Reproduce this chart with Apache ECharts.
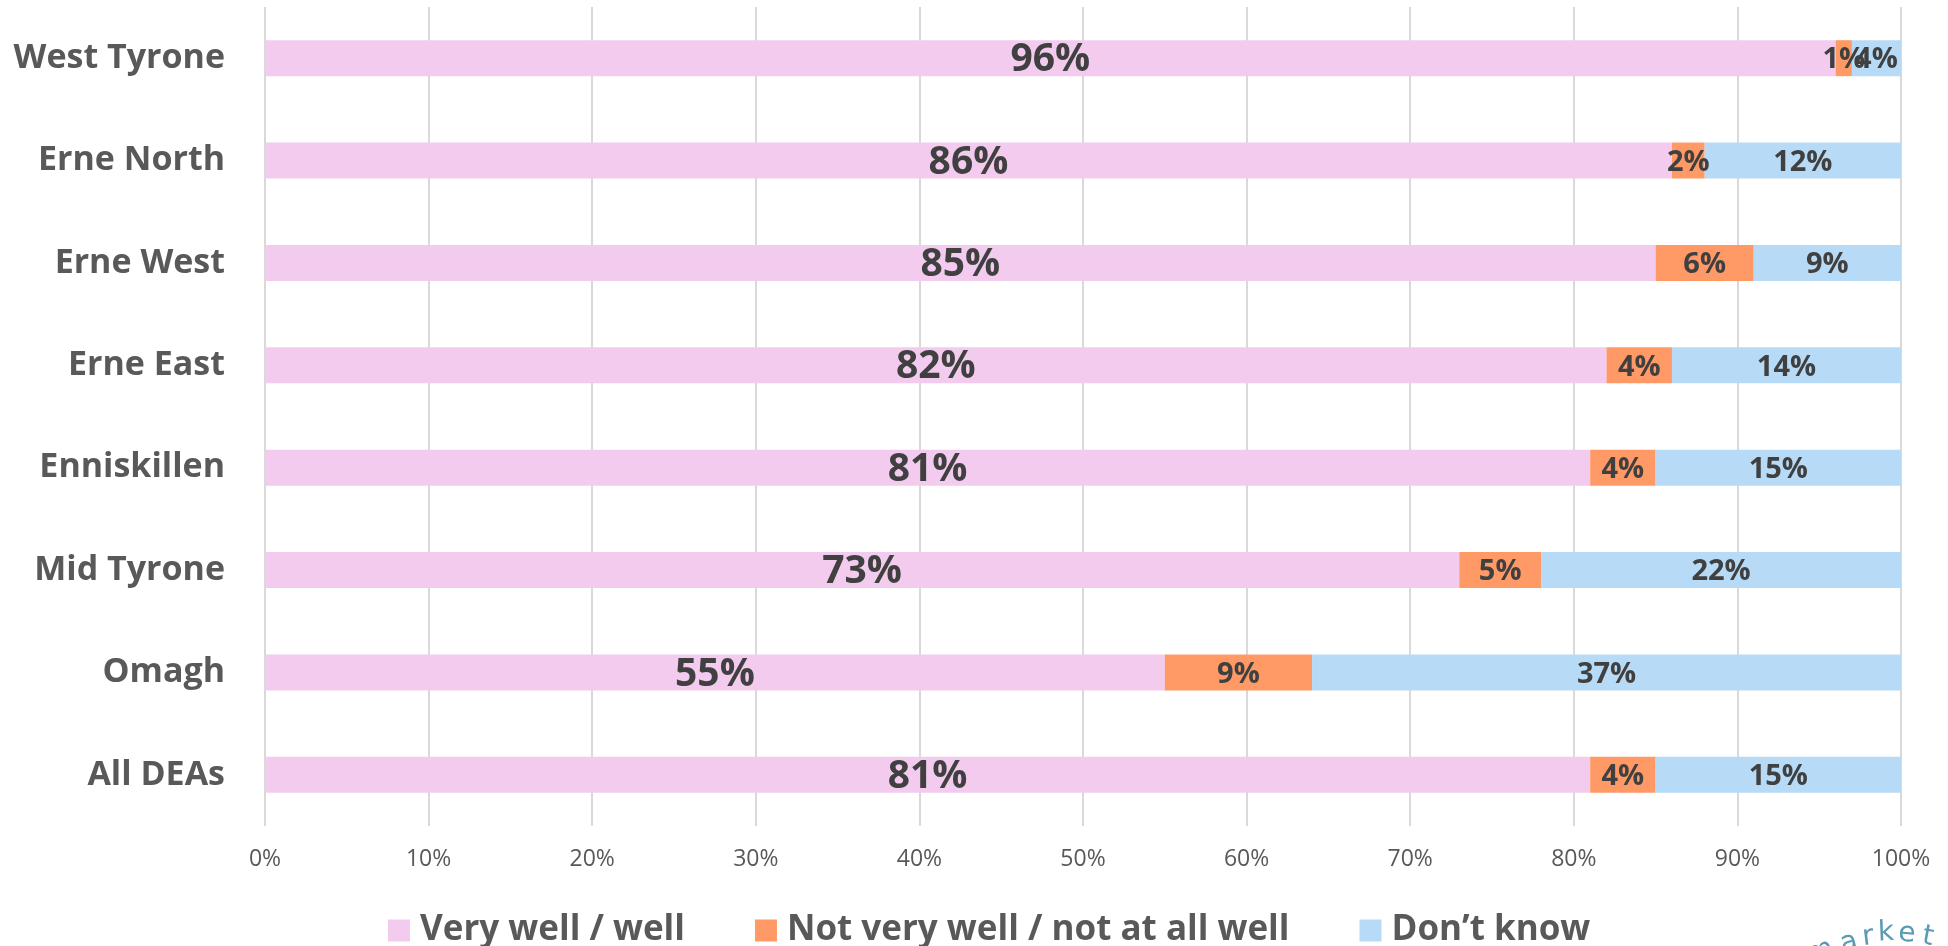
<!DOCTYPE html>
<html>
<head>
<meta charset="utf-8">
<script src="https://cdn.jsdelivr.net/npm/echarts@6/dist/echarts.min.js"></script>
<style>
html,body{margin:0;padding:0;background:#fff;}
#chart{width:1948px;height:946px;}
</style>
</head>
<body>
<div id="chart"></div>
<script>
const categories = ['West Tyrone','Erne North','Erne West','Erne East','Enniskillen','Mid Tyrone','Omagh','All DEAs'];
const veryWell = [96, 86, 85, 82, 81, 73, 55, 81];
const notWell = [1, 2, 6, 4, 4, 5, 9, 4];
const dontKnow = [4, 12, 9, 14, 15, 22, 37, 15];
const seriesNames = ['Very well / well', 'Not very well / not at all well', 'Don\u2019t know'];
const xTicks = [0,10,20,30,40,50,60,70,80,90,100];

const FONT = '"Open Sans", "DejaVu Sans", sans-serif';
const chart = echarts.init(document.getElementById('chart'), null, {renderer:'canvas'});

function mkSeries(name, data, color, size) {
  return {
    name: name,
    type: 'bar',
    stack: 'total',
    data: data,
    barWidth: 36,
    itemStyle: { color: color },
    label: {
      show: true,
      position: 'inside',
      offset: [0, 2],
      formatter: '{c}%',
      color: '#404040',
      fontFamily: FONT,
      fontWeight: 'bold',
      fontSize: size
    }
  };
}

const letters = ['m','a','r','k','e','t'];
const letterPos = [[1820,952,0.35],[1849,943,0.25],[1868,937,0.12],[1886,933,0.04],[1907,934,-0.08],[1928,937,-0.18]];
const graphics = letters.map((ch, i) => ({
  type: 'text',
  x: letterPos[i][0], y: letterPos[i][1], rotation: letterPos[i][2],
  style: { text: ch, fill: '#3d8aa6', font: '28px "DejaVu Sans", sans-serif', textAlign: 'center', textVerticalAlign: 'middle', opacity: 0.85 }
}));

chart.setOption({
  animation: false,
  backgroundColor: '#ffffff',
  grid: { left: 265, right: 47, top: 7, bottom: 120, containLabel: false },
  xAxis: {
    type: 'value',
    min: 0, max: 100, interval: 10,
    axisLine: { show: false },
    axisTick: { show: false },
    splitLine: { show: true, lineStyle: { color: '#d9d9d9', width: 2 } },
    axisLabel: {
      margin: 22,
      color: '#595959',
      fontFamily: FONT,
      fontSize: 23,
      formatter: v => (xTicks.indexOf(v) >= 0 ? v + '%' : '')
    }
  },
  yAxis: {
    type: 'category',
    data: categories,
    inverse: true,
    axisLine: { show: false },
    axisTick: { show: false },
    splitLine: { show: false },
    axisLabel: {
      margin: 40,
      color: '#595959',
      fontFamily: FONT,
      fontWeight: 'bold',
      fontSize: 34
    }
  },
  legend: {
    show: true,
    top: 908,
    left: 383,
    itemWidth: 22,
    itemHeight: 22,
    itemGap: 70,
    icon: 'rect',
    textStyle: {
      color: '#595959',
      fontFamily: FONT,
      fontWeight: 'bold',
      fontSize: 35,
      padding: [0, 0, 0, 5]
    },
    data: seriesNames
  },
  series: [
    mkSeries(seriesNames[0], veryWell, '#f2cbef', 39),
    mkSeries(seriesNames[1], notWell, '#ff9966', 29),
    mkSeries(seriesNames[2], dontKnow, '#b7dbf7', 29)
  ],
  graphic: graphics
});
</script>
</body>
</html>
